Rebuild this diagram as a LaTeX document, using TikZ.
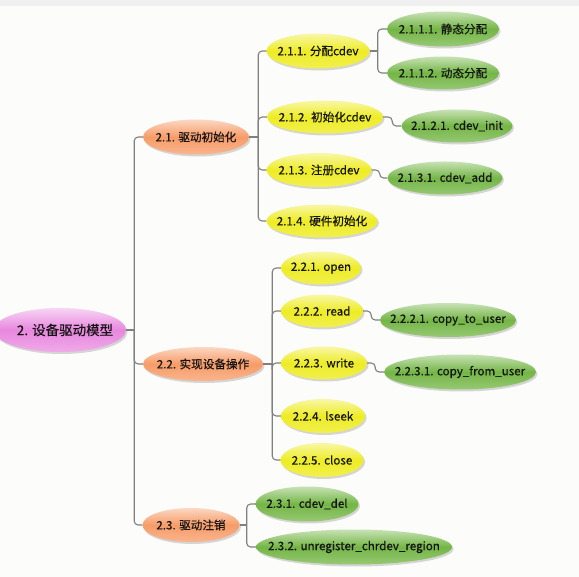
\documentclass[tikz,border=0pt]{standalone}
\usepackage{fontspec}
\setmainfont{Noto Sans CJK SC}
\newfontfamily\bubfont[FakeBold=0.4]{Noto Sans CJK SC}
\usetikzlibrary{shapes.geometric,shadows}
\definecolor{cpink}{RGB}{232,135,222}
\definecolor{corange}{RGB}{247,156,104}
\definecolor{cyellow}{RGB}{238,236,36}
\definecolor{cgreen}{RGB}{116,182,70}
\definecolor{cline}{RGB}{128,128,128}
\definecolor{ctext}{RGB}{20,20,20}
\definecolor{cbg}{RGB}{252,252,250}
\newcommand\bubtxt[1]{\makebox[0pt]{#1}}
\tikzset{
  bub/.style={ellipse, inner sep=0pt, minimum height=34, text=ctext,
    font=\bubfont\fontsize{11.6}{13}\selectfont,
    drop shadow={shadow xshift=1.5pt, shadow yshift=-2pt, opacity=0.22, fill=black!70}},
  pinkb/.style={bub, top color=cpink!35!white, bottom color=cpink!70!white, middle color=cpink},
  orab/.style={bub, top color=corange!40!white, bottom color=corange!75!white, middle color=corange},
  yelb/.style={bub, top color=cyellow!40!white, bottom color=cyellow!80!white, middle color=cyellow},
  grnb/.style={bub, top color=cgreen!40!white, bottom color=cgreen!75!white, middle color=cgreen},
  conn/.style={draw=cline, line width=1.1pt, rounded corners=4pt},
}
\begin{document}
\begin{tikzpicture}[x=1pt,y=-1pt]
\useasboundingbox (0,0) rectangle (579,577);
\fill[cbg] (0,0) rectangle (579,577);
\fill[black!6] (0,0) rectangle (579,6);

% root
\node[pinkb, minimum width=132, minimum height=44, font=\bubfont\fontsize{13.5}{15}\selectfont] (root) at (60,330) {\bubtxt{\hspace{10pt}2. 设备驱动模型}};

% level 1
\node[orab, minimum width=106, minimum height=35] (n21) at (196,137) {\bubtxt{2.1. 驱动初始化}};
\node[orab, minimum width=120] (n22) at (203,364) {\bubtxt{2.2. 实现设备操作}};
\node[orab, minimum width=97] (n23) at (191,525) {\bubtxt{2.3. 驱动注销}};

% level 2 under 2.1
\node[yelb, minimum width=103, minimum height=35] (n211) at (318,51) {\bubtxt{2.1.1. 分配cdev}};
\node[yelb, minimum width=116, minimum height=33] (n212) at (325,117) {\bubtxt{2.1.2. 初始化cdev}};
\node[yelb, minimum width=105] (n213) at (319,170) {\bubtxt{2.1.3. 注册cdev}};
\node[yelb, minimum width=111, minimum height=33] (n214) at (322,221) {\bubtxt{2.1.4. 硬件初始化}};

% level 3 under 2.1
\node[grnb, minimum width=112, minimum height=35] (n2111) at (443,29) {\bubtxt{2.1.1.1. 静态分配}};
\node[grnb, minimum width=112, minimum height=33] (n2112) at (443,73) {\bubtxt{2.1.1.2. 动态分配}};
\node[grnb, minimum width=111, minimum height=33] (n2121) at (457,126) {\bubtxt{2.1.2.1. cdev\_init}};
\node[grnb, minimum width=115, minimum height=33] (n2131) at (445,178) {\bubtxt{2.1.3.1. cdev\_add}};

% level 2 under 2.2
\node[yelb, minimum width=80, minimum height=33] (n221) at (321,268) {\bubtxt{2.2.1. open}};
\node[yelb, minimum width=82, minimum height=33] (n222) at (322,311) {\bubtxt{2.2.2. read}};
\node[yelb, minimum width=86, minimum height=33] (n223) at (324,363) {\bubtxt{2.2.3. write}};
\node[yelb, minimum width=84] (n224) at (323,416) {\bubtxt{2.2.4. lseek}};
\node[yelb, minimum width=83] (n225) at (322,460) {\bubtxt{2.2.5. close}};

\node[grnb, minimum width=136] (n2221) at (448,320) {\bubtxt{2.2.2.1. copy\_to\_user}};
\node[grnb, minimum width=152, minimum height=35] (n2231) at (460,372) {\bubtxt{2.2.3.1. copy\_from\_user}};

% level 2 under 2.3
\node[grnb, minimum width=103, minimum height=35] (n231) at (307,504) {\bubtxt{2.3.1. cdev\_del}};
\node[grnb, minimum width=196, minimum height=35] (n232) at (354,547) {\bubtxt{2.3.2. unregister\_chrdev\_region}};

% junction coordinates
\coordinate (j0) at ([xshift=8pt]root.east);
\coordinate (j21) at ([xshift=9pt]n21.east);
\coordinate (j22) at ([xshift=9pt]n22.east);
\coordinate (j23) at ([xshift=7pt]n23.east);
\coordinate (j211) at ([xshift=8pt]n211.east);

\draw[conn] (root.east) -- (j0);
\draw[conn] (j0) |- (n21.west);
\draw[conn] (j0) |- (n22.west);
\draw[conn] (j0) |- (n23.west);

\draw[conn] (n21.east) -- (j21);
\draw[conn] (j21) |- (n211.west);
\draw[conn] (j21) |- (n212.west);
\draw[conn] (j21) |- (n213.west);
\draw[conn] (j21) |- (n214.west);

\draw[conn] (n211.east) -- (j211);
\draw[conn] (j211) |- (n2111.west);
\draw[conn] (j211) |- (n2112.west);

\draw[conn] (n212.east) -- ++(9,0) |- (n2121.west);
\draw[conn] (n213.east) -- ++(8,0) |- (n2131.west);

\draw[conn] (n22.east) -- (j22);
\draw[conn] (j22) |- (n221.west);
\draw[conn] (j22) |- (n222.west);
\draw[conn] (j22) |- (n223.west);
\draw[conn] (j22) |- (n224.west);
\draw[conn] (j22) |- (n225.west);

\draw[conn] (n222.east) -- ++(8,0) |- (n2221.west);
\draw[conn] (n223.east) -- ++(8,0) |- (n2231.west);

\draw[conn] (n23.east) -- (j23);
\draw[conn] (j23) |- (n231.west);
\draw[conn] (j23) |- (n232.west);
\end{tikzpicture}
\end{document}
